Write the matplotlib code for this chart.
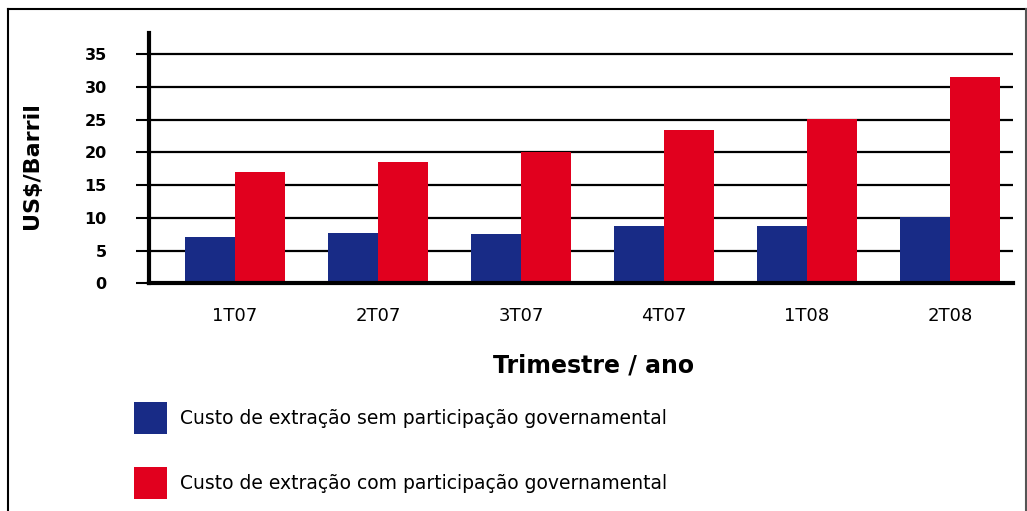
import numpy as np
import matplotlib
matplotlib.use("Agg")
import matplotlib.pyplot as plt
from matplotlib.lines import Line2D

# DATA
trimestres = ["1T07", "2T07", "3T07", "4T07", "1T08", "2T08"]
sem_gov = [7.0, 7.7, 7.6, 8.8, 8.8, 10.2]
com_gov = [17.0, 18.6, 20.1, 23.4, 25.1, 31.5]
yticks = [0, 5, 10, 15, 20, 25, 30, 35]
lbl_sem = "Custo de extração sem participação governamental"
lbl_com = "Custo de extração com participação governamental"

plt.rcParams['font.family'] = ['DejaVu Sans']

clr_blue = "#182b86"
clr_red = "#e1001e"

fig = plt.figure(figsize=[10.27, 5.11], dpi=100)
W, H = 1027.0, 511.0
ax = fig.add_axes([149/W, 1-283.3/H, (1013-149)/W, 250/H])

x = np.arange(len(trimestres))
bw = 0.35
ax.bar(x-bw/2, sem_gov, bw, color=clr_blue, label=lbl_sem, zorder=2)
ax.bar(x+bw/2, com_gov, bw, color=clr_red, label=lbl_com, zorder=2)

ax.set_xlim(-0.6, 5.44)
ax.set_ylim(0, 38.2)
ax.set_yticks(yticks)
ax.set_yticklabels([str(v) for v in yticks], fontweight="bold", fontsize=11.5)
ax.set_xticks(x)
ax.set_xticklabels(trimestres, fontsize=13)
ax.tick_params(axis="x", length=0, pad=17)
ax.tick_params(axis="y", length=9.4, width=1.5, pad=21, color="black")
ax.yaxis.grid(True, color="black", linewidth=1.6, zorder=1)
ax.set_axisbelow(True)

for s in ["top", "right"]:
    ax.spines[s].set_visible(False)
ax.spines["left"].set_linewidth(3)
ax.spines["bottom"].set_linewidth(3)
ax.spines["bottom"].set_zorder(3)

ax.set_xlabel("Trimestre / ano", fontsize=17, fontweight="bold", va="center")
ax.xaxis.set_label_coords(0.514, -0.327)
ax.set_ylabel("US$/Barril", fontsize=16, fontweight="bold", va="center")
ax.yaxis.set_label_coords(-0.1354, 0.469)

fsz = 13.5
leg = fig.legend(loc="upper left", bbox_to_anchor=(134/W, 1-401.7/H),
                 frameon=False, fontsize=fsz, borderpad=0, borderaxespad=0,
                 handlelength=1.76, handleheight=2.28, handletextpad=0.67,
                 labelspacing=1.76)

# outer frame
fig.add_artist(Line2D([7.5/W, 7.5/W], [0, 1-9.5/H], color="black", lw=1.5, transform=fig.transFigure))
fig.add_artist(Line2D([7.5/W, 1025.5/W], [1-9.5/H, 1-9.5/H], color="black", lw=1.5, transform=fig.transFigure))
fig.add_artist(Line2D([1025.5/W, 1025.5/W], [0, 1-9.5/H], color="#555555", lw=1.5, transform=fig.transFigure))

fig.savefig("out.png", dpi=100)
